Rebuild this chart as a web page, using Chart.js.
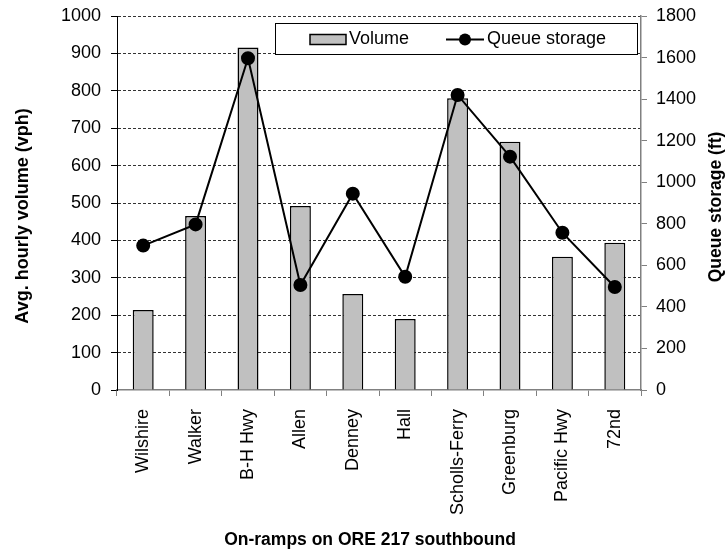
<!DOCTYPE html>
<html>
<head>
<meta charset="utf-8">
<script src="https://cdn.jsdelivr.net/npm/chart.js@4.4.0/dist/chart.umd.min.js"></script>
<style>
  html, body { margin: 0; padding: 0; background: #fff; }
</style>
</head>
<body>
<canvas id="rampChart" width="727" height="555"></canvas>
<script>
// on-ramps along ORE 217 southbound
const ramps = ['Wilshire', 'Walker', 'B-H Hwy', 'Allen', 'Denney', 'Hall',
  'Scholls-Ferry', 'Greenburg', 'Pacific Hwy', '72nd'];
// avg. hourly volume (vph), left axis
const volume = [214, 465, 916, 492, 257, 190, 780, 664, 356, 394];
// queue storage (ft), right axis
const queueStorage = [695, 797, 1597, 505, 945, 545, 1420, 1123, 757, 496];

const volumeAxis = { min: 0, max: 1000, step: 100 };
const queueAxis = { min: 0, max: 1800, step: 200 };

const FONT = '"Liberation Sans", Arial, sans-serif';
Chart.defaults.font.family = FONT;
Chart.defaults.color = '#000';

// axis titles + boxed legend drawn by hand
const extras = {
  id: 'extras',
  afterDatasetsDraw(chart) {
    const ctx = chart.ctx;
    const a = chart.chartArea;
    ctx.save();

    // legend
    const x = a.left + 158, y = a.top + 7, w = a.right - 4 - x, h = 31;
    ctx.fillStyle = '#fff';
    ctx.fillRect(x, y, w, h);
    ctx.strokeStyle = '#000';
    ctx.lineWidth = 1;
    ctx.strokeRect(x + 0.5, y + 0.5, w, h);
    const cy = y + h / 2 + 1;
    ctx.fillStyle = '#c0c0c0';
    ctx.fillRect(x + 35, cy - 5, 36, 10);
    ctx.lineWidth = 1.5;
    ctx.strokeRect(x + 35, cy - 5, 36, 10);
    ctx.fillStyle = '#000';
    ctx.font = '18px ' + FONT;
    ctx.textBaseline = 'middle';
    ctx.fillText('Volume', x + 74, cy);
    ctx.beginPath();
    ctx.moveTo(x + 171, cy);
    ctx.lineTo(x + 209, cy);
    ctx.lineWidth = 2;
    ctx.stroke();
    ctx.beginPath();
    ctx.arc(x + 190, cy, 6, 0, Math.PI * 2);
    ctx.fill();
    ctx.fillText('Queue storage', x + 212, cy);

    // axis titles
    ctx.textAlign = 'center';
    ctx.font = 'bold 18px ' + FONT;
    ctx.save();
    ctx.translate(23, 216);
    ctx.rotate(-Math.PI / 2);
    ctx.fillText('Avg. hourly volume (vph)', 0, 0);
    ctx.restore();

    ctx.font = 'bold 17.5px ' + FONT;
    ctx.save();
    ctx.translate(716, 207);
    ctx.rotate(-Math.PI / 2);
    ctx.fillText('Queue storage (ft)', 0, 0);
    ctx.restore();

    ctx.fillText('On-ramps on ORE 217 southbound', 370, 540);
    ctx.restore();
  }
};

new Chart(document.getElementById('rampChart'), {
  data: {
    labels: ramps,
    datasets: [
      {
        type: 'line',
        label: 'Queue storage',
        data: queueStorage,
        yAxisID: 'y1',
        borderColor: '#000',
        borderWidth: 2,
        pointRadius: 6,
        pointBackgroundColor: '#000',
        pointBorderColor: '#000',
        tension: 0,
        order: 0
      },
      {
        type: 'bar',
        label: 'Volume',
        data: volume,
        yAxisID: 'y',
        backgroundColor: '#c0c0c0',
        borderColor: '#000',
        borderWidth: 1.5,
        categoryPercentage: 1,
        barPercentage: 0.4,
        order: 1
      }
    ]
  },
  options: {
    responsive: false,
    animation: false,
    layout: { padding: { left: 0, right: 0, top: 16, bottom: 0 } },
    plugins: {
      legend: { display: false },
      tooltip: { enabled: false }
    },
    scales: {
      x: {
        offset: true,
        grid: { offset: true, drawOnChartArea: false, tickLength: 6, color: '#808080' },
        border: { color: '#808080', width: 1.5 },
        ticks: { minRotation: 90, maxRotation: 90, font: { size: 18 }, padding: 13 },
        afterFit: (s) => { s.height = 165; }
      },
      y: {
        position: 'left',
        min: volumeAxis.min,
        max: volumeAxis.max,
        ticks: { stepSize: volumeAxis.step, font: { size: 18 }, padding: 10, callback: (v) => String(v) },
        grid: {
          color: (c) => (c.tick && c.tick.value === 0 ? 'rgba(0,0,0,0)' : '#333'),
          lineWidth: 1,
          tickLength: 6,
          tickColor: '#000',
          tickBorderDash: []
        },
        border: { color: '#000', width: 1, dash: [3, 2] },
        afterFit: (s) => { s.width = 117; s.paddingTop = 4; s.paddingBottom = 4; }
      },
      y1: {
        position: 'right',
        min: queueAxis.min,
        max: queueAxis.max,
        ticks: { stepSize: queueAxis.step, font: { size: 18 }, padding: 9, callback: (v) => String(v) },
        grid: { drawOnChartArea: false, tickLength: 6, color: '#808080' },
        border: { color: '#808080', width: 1.5 },
        afterFit: (s) => { s.width = 86; s.paddingTop = 4; s.paddingBottom = 4; }
      }
    }
  },
  plugins: [extras]
});
</script>
</body>
</html>
